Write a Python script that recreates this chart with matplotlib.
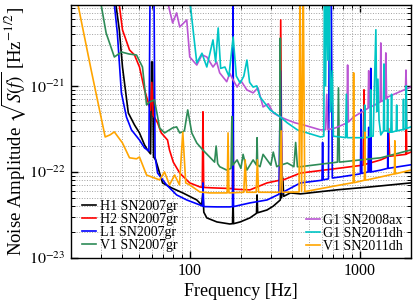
import numpy as np
import matplotlib
matplotlib.use('Agg')
import matplotlib.pyplot as plt
from matplotlib.ticker import NullFormatter, LogLocator

plt.rcParams['font.family'] = ['Liberation Serif', 'DejaVu Serif']
plt.rcParams['mathtext.fontset'] = 'stix'

# (frequency [Hz], amplitude [Hz^-1/2])
h1_07gr = np.array([
    (36, 1.2e-20), (38.5, 4.5e-21), (40.2, 1.66e-21), (43.5, 4.85e-22), (47.3, 3.52e-22),
    (50.6, 2.84e-22), (54.2, 2.06e-22), (56.4, 1.8e-22), (58.8, 1.62e-22), (59.6, 1.9e-21),
    (60.4, 1.9e-21), (61.2, 1.5e-22), (63, 1.38e-22), (69.2, 7.45e-23), (78.2, 6.52e-23),
    (91, 5.7e-23), (110, 4.72e-23), (117.5, 4.13e-23), (119.5, 5.7e-23), (121, 3.4e-23),
    (126, 2.92e-23), (144.5, 2.62e-23), (172, 2.48e-23), (178.5, 2.5e-23), (179.8, 5.0e-23),
    (181, 2.5e-23), (198, 2.62e-23), (226, 2.92e-23), (247, 3.3e-23), (249, 5.4e-23),
    (251, 3.35e-23), (285, 3.61e-23), (310, 4.0e-23), (341, 4.72e-23), (344, 9e-23),
    (347, 5.0e-23), (353, 8.5e-23), (357, 5.2e-23), (391, 5.7e-23), (448, 5.55e-23),
    (741, 6.2e-23), (1162, 6.7e-23), (2000, 7.45e-23)])

h2_07gr = np.array([
    (37, 1.2e-20), (38.5, 8.75e-21), (40.2, 4.48e-21), (44.2, 2.62e-21), (47.3, 2.29e-21),
    (50.6, 1.66e-21), (54.2, 8.98e-22), (56.4, 6.88e-22), (58.8, 5.2e-22), (59.8, 1.1e-21),
    (60.8, 4.6e-22), (64.7, 3.72e-22), (68, 2.84e-22), (74, 2.35e-22), (76, 1.8e-22),
    (80, 1.3e-22), (87.3, 9.7e-23), (100, 7.45e-23), (114.6, 6.7e-23), (118.5, 6.6e-23),
    (119.6, 5e-22), (120.8, 6.6e-23), (137, 6.52e-23), (178.5, 6.4e-23), (179.8, 4.4e-22),
    (181, 6.3e-23), (226, 6.18e-23), (285, 7.45e-23), (338, 8e-23), (343, 5.85e-21),
    (348, 8.1e-23), (355, 8.07e-23), (448, 9.7e-23), (772, 1.11e-22), (1050, 1.2e-22),
    (1060, 9e-22), (1070, 1.22e-22), (1331, 1.38e-22), (1465, 1.5e-22), (1480, 3.2e-22),
    (1500, 1.52e-22), (1870, 1.6e-22), (1880, 6.9e-22), (1890, 1.62e-22), (2000, 1.7e-22)])

l1_07gr = np.array([
    (35, 1.5e-20), (37.5, 4.1e-21), (39.6, 8.3e-22), (42.4, 4.36e-22), (45.4, 3.08e-22),
    (50.6, 2.35e-22), (54.2, 1.9e-22), (57.5, 1.75e-22), (58.5, 2e-20), (61.5, 2e-20),
    (62.5, 1.5e-22), (64.7, 9.7e-23), (73.1, 7.06e-23), (83.7, 5.4e-23), (96, 4.72e-23),
    (114.6, 4.13e-23), (118.8, 4.0e-23), (119.7, 7.45e-23), (120.8, 3.95e-23), (144.5, 3.92e-23),
    (172, 3.92e-23), (178.5, 3.95e-23), (179.8, 2e-20), (181, 3.95e-23), (226, 4.36e-23),
    (285, 4.72e-23), (335, 5.5e-23), (342, 1.5e-21), (350, 5.7e-23), (356, 5.85e-23),
    (448, 7.45e-23), (600, 8e-23), (605, 2.2e-22), (610, 8.1e-23), (655, 8.3e-23),
    (665, 2e-20), (680, 2e-20), (690, 8.5e-23), (772, 8.75e-23), (1010, 9.5e-23),
    (1020, 5.3e-22), (1030, 9.6e-23), (1120, 1.0e-22), (1130, 3.3e-22), (1140, 1.0e-22),
    (1155, 1.0e-22), (1162, 1.6e-21), (1170, 1.0e-22), (1331, 1.05e-22), (1460, 1.1e-22),
    (1465, 2.84e-22), (1470, 1.1e-22), (2000, 1.21e-22)])

v1_07gr = np.array([
    (29.5, 1.1e-20), (32.2, 4.13e-21), (36, 2.17e-21), (39.6, 2.48e-21), (44, 2.35e-21),
    (48.6, 2.29e-21), (52.7, 1.66e-21), (55.7, 6.01e-22), (58, 6.5e-22), (62, 6.88e-22),
    (66.5, 3.25e-22), (71.1, 2.84e-22), (79.3, 3.25e-22), (83.7, 3.34e-22), (87.3, 2.84e-22),
    (93, 3.0e-22), (97.3, 5.26e-22), (102.8, 2.84e-22), (110, 2.17e-22), (119.4, 1.8e-22),
    (131, 1.49e-22), (140, 1.3e-22), (143, 2.0e-22), (146, 1.25e-22), (150, 1.15e-22),
    (165, 1.05e-22), (175, 1.1e-22), (177, 4.4e-22), (179, 1.2e-22), (190, 1.38e-22),
    (200, 1.1e-22), (206, 1.6e-22), (217, 1.05e-22), (236, 1.38e-22), (247, 1.2e-22),
    (249, 2.5e-22), (251, 1.2e-22), (259, 1.15e-22), (270, 1.6e-22), (285, 1.38e-22),
    (300, 1.2e-22), (310, 1.7e-22), (325, 1.15e-22), (338, 1.2e-22), (341, 3.6e-21),
    (344, 1.2e-22), (375, 1.27e-22), (410, 1.15e-22), (420, 2.2e-22), (430, 1.15e-22),
    (448, 1.15e-22), (740, 1.3e-22), (750, 9.5e-22), (760, 1.3e-22), (1331, 1.46e-22),
    (2000, 1.8e-22)])

g1_08ax = np.array([
    (72, 1.2e-20), (79.3, 5.4e-21), (83.7, 7.07e-21), (87.3, 4.85e-21), (96, 5.85e-21),
    (100, 2.17e-21), (110, 1.75e-21), (118, 2.3e-21), (126, 2.17e-21), (137, 1.66e-21),
    (144, 1.9e-21), (150, 1.42e-21), (165, 1.12e-21), (172, 1.4e-21), (180, 1.17e-21),
    (190, 9.7e-22), (200, 1.15e-21), (217, 8.98e-22), (236, 8.3e-22), (252, 9.5e-22),
    (270, 5.7e-22), (290, 6.2e-22), (310, 4.85e-22), (341, 4.36e-22), (375, 4.03e-22),
    (417, 3.72e-22), (467, 3.52e-22), (588, 3.08e-22), (630, 3.1e-22), (640, 8e-22),
    (650, 3.1e-22), (720, 3.25e-22), (840, 3.7e-22), (849, 1.75e-21), (858, 3.8e-22),
    (921, 4.36e-22), (1120, 5.5e-22), (1130, 1.5e-21), (1140, 5.6e-22), (1162, 5.7e-22),
    (1320, 6.5e-22), (1331, 3.16e-21), (1345, 6.6e-22), (1410, 7e-22), (1425, 2.42e-21),
    (1440, 7.1e-22), (1465, 7.45e-22), (1821, 8.98e-22), (1860, 9.1e-22), (1872, 1.53e-21),
    (1885, 9.2e-22), (2000, 9.7e-22)])

g1_11dh = np.array([
    (99, 1.2e-20), (110, 1.85e-21), (118, 2.4e-21), (126, 1.66e-21), (137, 3.43e-21),
    (142, 1.9e-21), (147, 4.72e-21), (152, 1.6e-21), (161, 1.66e-21), (170, 1.3e-21),
    (180, 3.71e-21), (188, 1.3e-21), (198, 1.08e-21), (208, 1.3e-21), (217, 2.0e-21),
    (225, 1.1e-21), (236, 9.7e-22), (248, 1.0e-21), (259, 7.45e-22), (297, 5.26e-22),
    (341, 4.36e-22), (375, 3.72e-22), (430, 3.08e-22), (492, 2.84e-22), (588, 2.55e-22),
    (615, 2.6e-22), (620, 2e-20), (630, 1e-21), (640, 2e-20), (650, 2e-21), (660, 2e-20),
    (675, 5e-22), (690, 1.5e-21), (700, 2.6e-22), (772, 2.55e-22), (826, 2.5e-22),
    (835, 8e-22), (845, 2.5e-22), (1014, 2.5e-22), (1060, 2.5e-22), (1070, 6e-22),
    (1080, 2.5e-22), (1150, 2.55e-22), (1160, 9e-22), (1170, 2.6e-22), (1200, 2.6e-22),
    (1245, 4.5e-21), (1260, 5e-22), (1280, 1.2e-21), (1300, 4e-22), (1331, 2.69e-22),
    (1380, 3e-22), (1390, 1.8e-21), (1400, 3e-22), (1450, 3e-22), (1460, 7e-22),
    (1470, 2.9e-22), (1525, 2.9e-22), (1540, 8e-22), (1550, 2.9e-22), (1640, 3e-22),
    (1650, 6e-22), (1660, 3e-22), (1750, 3.08e-22), (1800, 3.1e-22), (1810, 7e-22),
    (1820, 3.1e-22), (1870, 3.2e-22), (1880, 1.0e-21), (1890, 3.2e-22), (2000, 3.34e-22)])

v1_11dh = np.array([
    (21.5, 1.1e-20), (26.3, 1.53e-21), (31.8, 2.55e-22), (34, 2.7e-22), (36, 2.92e-22),
    (40.2, 2.17e-22), (44.2, 1.46e-22), (48.6, 1.42e-22), (50.6, 1.49e-22), (55.7, 9.2e-23),
    (66.5, 8.07e-23), (71, 1.0e-22), (76, 7.06e-23), (81.5, 9.2e-23), (87, 7.06e-23),
    (91, 2.9e-22), (94.7, 7.45e-23), (100, 7.06e-23), (114.6, 5.85e-23), (131, 5.7e-23),
    (166, 5.7e-23), (168, 2.84e-22), (170, 5.7e-23), (208, 5.8e-23), (212, 1.38e-22),
    (216, 5.8e-23), (246, 5.8e-23), (250, 1.38e-22), (254, 5.8e-23), (340, 5.8e-23),
    (345, 3e-22), (350, 5.8e-23), (440, 5.85e-23), (445, 2e-20), (455, 5.9e-23),
    (465, 2e-20), (475, 5.9e-23), (772, 7.06e-23), (915, 7.5e-23), (921, 1.42e-21),
    (928, 7.5e-23), (1065, 8e-23), (1072, 2.9e-22), (1080, 8e-23), (1331, 8.75e-23),
    (1600, 9.5e-23), (1610, 2.3e-22), (1620, 9.5e-23), (2000, 1.05e-22)])

left_series = [(h1_07gr, 'k', 'H1 SN2007gr'), (h2_07gr, 'r', 'H2 SN2007gr'),
               (l1_07gr, 'b', 'L1 SN2007gr'), (v1_07gr, '#2e8b57', 'V1 SN2007gr')]
right_series = [(g1_08ax, '#ba55d3', 'G1 SN2008ax'), (g1_11dh, '#00c5c5', 'G1 SN2011dh'),
                (v1_11dh, '#ffa500', 'V1 SN2011dh')]

x_ticks = [100, 1000]
x_ticklabels = ['100', '1000']
y_ticks = [1e-23, 1e-22, 1e-21]
y_ticklabels = [r'$10^{-23}$', r'$10^{-22}$', r'$10^{-21}$']

fig = plt.figure(figsize=(4.15, 3.02), dpi=100)
ax = fig.add_axes([0.171, 0.146, 0.819, 0.837])

lines_l = []
for d, c, lab in left_series:
    ln, = ax.loglog(d[:, 0], d[:, 1], color=c, lw=1.2, label=lab)
    lines_l.append(ln)
lines_r = []
for d, c, lab in right_series:
    ln, = ax.loglog(d[:, 0], d[:, 1], color=c, lw=1.2, label=lab)
    lines_r.append(ln)

ax.set_xlim(20, 2000)
ax.set_ylim(1e-23, 8.7e-21)
ax.set_xticks(x_ticks)
ax.set_xticklabels(x_ticklabels)
ax.set_yticks(y_ticks)
ax.set_yticklabels(y_ticklabels)
ax.xaxis.set_minor_locator(LogLocator(base=10, subs=np.arange(2, 10)))
ax.yaxis.set_minor_locator(LogLocator(base=10, subs=np.arange(2, 10)))
ax.xaxis.set_minor_formatter(NullFormatter())
ax.yaxis.set_minor_formatter(NullFormatter())
ax.tick_params(which='both', direction='in', top=True, right=True, labelsize=11.5)
ax.tick_params(which='major', length=5, width=1.0, pad=4)
ax.tick_params(which='minor', length=3, width=0.7)
ax.grid(which='both', ls=':', color='#a0a0a0', lw=0.7)
for s in ax.spines.values():
    s.set_linewidth(1.0)

ax.set_xlabel('Frequency [Hz]', fontsize=13)
ax.xaxis.set_label_coords(0.5, -0.1)
ax.set_ylabel(r'Noise Amplitude $\sqrt{S(f)}$ [Hz$^{-1/2}$]', fontsize=13.5)
ax.yaxis.set_label_coords(-0.125, 0.5)

leg_kw = dict(frameon=False, fontsize=10, handlelength=1.0, handletextpad=0.25,
              labelspacing=0.0, borderaxespad=0.0, borderpad=0.2)
leg1 = ax.legend(handles=lines_l, loc='lower left', bbox_to_anchor=(0.025, 0.012), **leg_kw)
ax.add_artist(leg1)
ax.legend(handles=lines_r, loc='lower right', bbox_to_anchor=(0.986, 0.010), **leg_kw)

fig.savefig('out.png', dpi=100)
